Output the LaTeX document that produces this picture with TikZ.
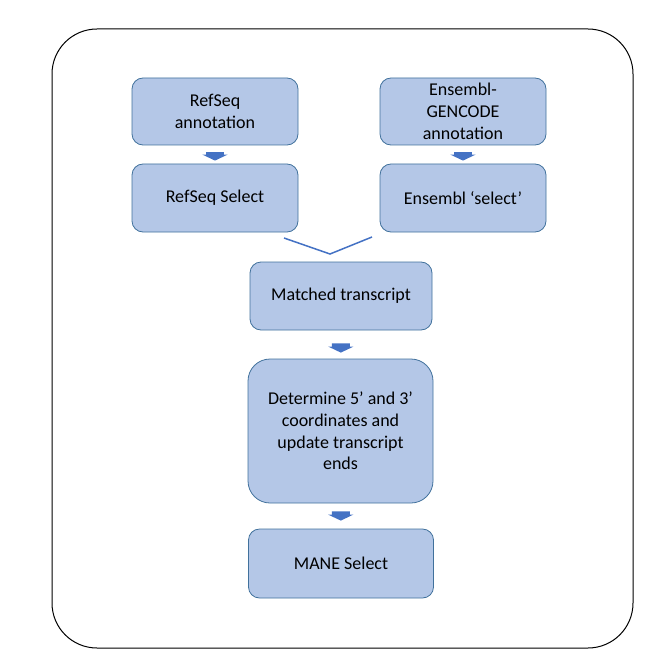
\documentclass[tikz,border=0pt]{standalone}
\usepackage{fontspec}
\setmainfont{Carlito}
\usepackage{tikz}
\usetikzlibrary{arrows.meta}

\definecolor{boxfill}{HTML}{B4C7E7}
\definecolor{boxline}{HTML}{41719C}
\definecolor{arrblue}{HTML}{4472C4}

\begin{document}
\begin{tikzpicture}[x=1pt,y=-1pt,
    stagebox/.style={draw=boxline,line width=0.8pt,fill=boxfill,rounded corners=11pt,
      align=center,inner sep=0pt,font=\fontsize{18}{21.7}\selectfont},
    blockarr/.style={draw=arrblue,line width=18pt,
      -{Triangle[width=25pt,length=6pt,fill=arrblue]}}]
        \useasboundingbox (0,0) rectangle (662,671);
        % outer frame
        \draw[line width=1pt,rounded corners=45pt] (52,29) rectangle (633,648);
        % two source columns
        \node[stagebox,minimum width=166pt,minimum height=67pt] (refann) at (215,111.5)
          {RefSeq\\annotation};
        \node[stagebox,minimum width=166pt,minimum height=68pt] (refsel) at (215,198)
          {RefSeq Select};
        \node[stagebox,minimum width=166pt,minimum height=67pt] (ensann) at (463,111.5)
          {Ensembl-\\GENCODE\\annotation};
        \node[stagebox,minimum width=166pt,minimum height=68pt] (enssel) at (463,198)
          {Ensembl `select'};
        % merged steps
        \node[stagebox,minimum width=182pt,minimum height=68pt] (matched) at (341,296)
          {Matched transcript};
        \node[stagebox,rounded corners=22pt,minimum width=185pt,minimum height=144pt]
          (ends) at (340.5,431)
          {Determine 5’ and 3’\\coordinates and\\update transcript\\ends};
        \node[stagebox,minimum width=185pt,minimum height=69pt] (mane) at (341,563.5)
          {MANE Select};
        % block arrows
        \draw[blockarr,shorten <=7pt,shorten >=3pt] (refann) -- (refsel);
        \draw[blockarr,shorten <=7pt,shorten >=3pt] (ensann) -- (enssel);
        \draw[blockarr,shorten <=13pt,shorten >=6pt] (matched) -- (ends);
        \draw[blockarr,shorten <=8pt,shorten >=8pt] (ends) -- (mane);
        % join of the two selects
        \coordinate (vleft) at (284,238);
        \coordinate (vtip) at (330,254);
        \coordinate (vright) at (372,237);
        \draw[arrblue,line width=1.5pt] (vleft) -- (vtip) -- (vright);
      \end{tikzpicture}
\end{document}
